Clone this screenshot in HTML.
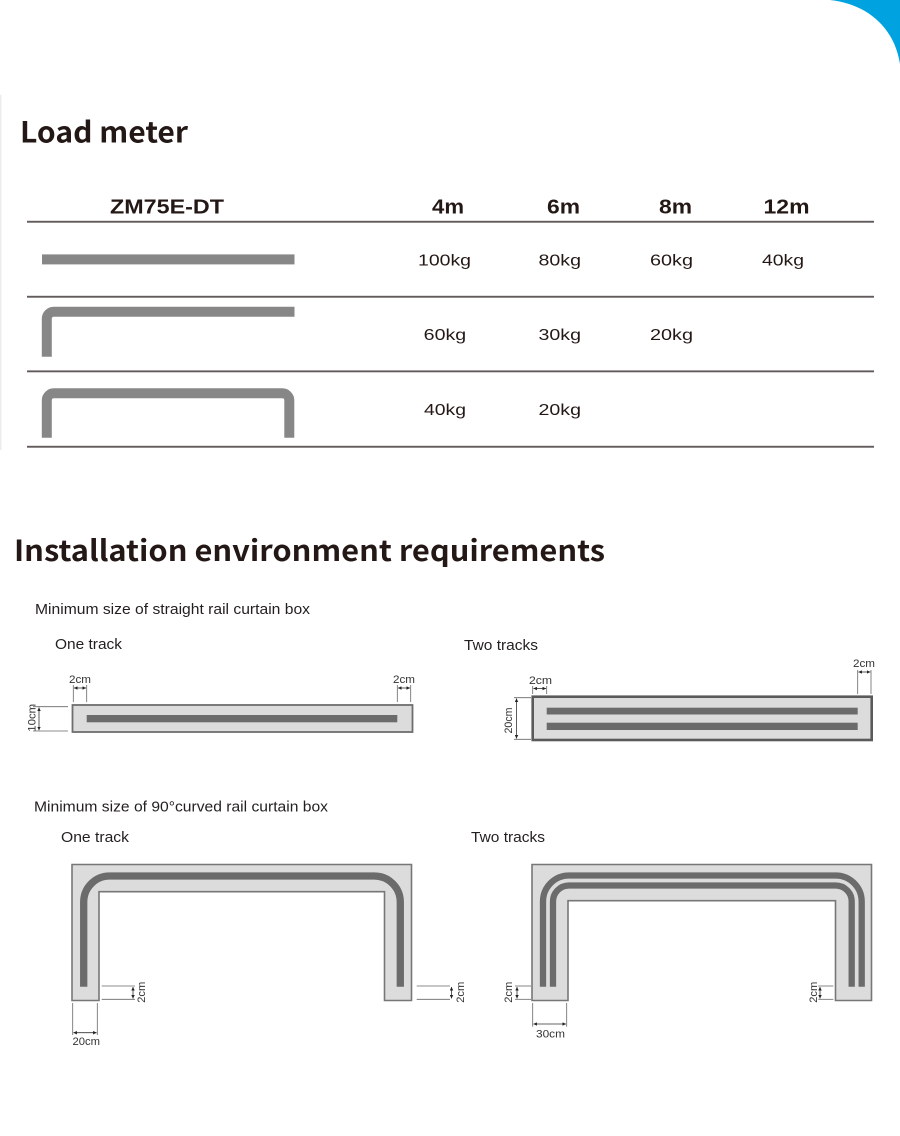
<!DOCTYPE html>
<html>
<head>
<meta charset="utf-8">
<style>
html,body{margin:0;padding:0;background:#fff;}
svg{display:block;}
.h{font-family:"Noto Sans CJK SC","Liberation Sans",sans-serif;font-weight:700;fill:#231815;}
.th{font-family:"Liberation Sans",Arial,sans-serif;font-weight:700;fill:#231815;font-size:20px;}
.tv{font-family:"Liberation Sans",Arial,sans-serif;fill:#231815;font-size:16px;}
.st{font-family:"Liberation Sans",Arial,sans-serif;fill:#231f20;font-size:15px;}
.d{font-family:"Liberation Sans",Arial,sans-serif;fill:#333;font-size:11px;}
.dl{stroke:#666;stroke-width:0.8;fill:none;}
.ar{stroke:#333;stroke-width:0.8;fill:none;}
</style>
</head>
<body>
<svg width="900" height="1136" viewBox="0 0 900 1136" xmlns="http://www.w3.org/2000/svg">
<defs>
<marker id="a" viewBox="0 0 6 6" refX="6" refY="3" markerWidth="3.5" markerHeight="3.5" orient="auto-start-reverse" markerUnits="userSpaceOnUse">
<path d="M0,0 L6,3 L0,6 Z" fill="#222"/>
</marker>
</defs>
<rect width="900" height="1136" fill="#fff"/>
<path d="M830,0 C866,4 894,26 900,64 L900,0 Z" fill="#00a3e0"/>
<rect x="0" y="95" width="1.5" height="355" fill="#ececec"/>

<!-- Load meter -->
<text class="h" x="20" y="142.7" font-size="29" textLength="168" lengthAdjust="spacingAndGlyphs">Load meter</text>

<text class="th" x="110" y="213.3" textLength="114" lengthAdjust="spacingAndGlyphs">ZM75E-DT</text>
<text class="th" x="432" y="213.3" textLength="32" lengthAdjust="spacingAndGlyphs">4m</text>
<text class="th" x="547" y="213.3" textLength="33" lengthAdjust="spacingAndGlyphs">6m</text>
<text class="th" x="659" y="213.3" textLength="33" lengthAdjust="spacingAndGlyphs">8m</text>
<text class="th" x="763.5" y="213.3" textLength="46" lengthAdjust="spacingAndGlyphs">12m</text>

<rect x="27" y="220.8" width="847" height="1.9" fill="#625b5b"/>
<rect x="27" y="295.8" width="847" height="1.9" fill="#625b5b"/>
<rect x="27" y="370.4" width="847" height="1.9" fill="#625b5b"/>
<rect x="27" y="445.8" width="847" height="1.9" fill="#625b5b"/>

<!-- row 1 -->
<rect x="42" y="254.4" width="252.5" height="10" fill="#878787"/>
<text class="tv" x="418" y="265.7" textLength="53" lengthAdjust="spacingAndGlyphs">100kg</text>
<text class="tv" x="538.5" y="265.7" textLength="42.5" lengthAdjust="spacingAndGlyphs">80kg</text>
<text class="tv" x="650" y="265.7" textLength="43" lengthAdjust="spacingAndGlyphs">60kg</text>
<text class="tv" x="762" y="265.7" textLength="42" lengthAdjust="spacingAndGlyphs">40kg</text>

<!-- row 2 -->
<path d="M46.8,356.7 V318.7 A7,7 0 0 1 53.8,311.7 H294.5" stroke="#878787" stroke-width="10" fill="none"/>
<text class="tv" x="423.7" y="340" textLength="42.5" lengthAdjust="spacingAndGlyphs">60kg</text>
<text class="tv" x="538.5" y="340" textLength="42.5" lengthAdjust="spacingAndGlyphs">30kg</text>
<text class="tv" x="650" y="340" textLength="43" lengthAdjust="spacingAndGlyphs">20kg</text>

<!-- row 3 -->
<path d="M46.8,437.7 V400.3 A7,7 0 0 1 53.8,393.3 H282.3 A7,7 0 0 1 289.3,400.3 V437.7" stroke="#878787" stroke-width="10" fill="none"/>
<text class="tv" x="424" y="415" textLength="42" lengthAdjust="spacingAndGlyphs">40kg</text>
<text class="tv" x="538.5" y="415" textLength="42.5" lengthAdjust="spacingAndGlyphs">20kg</text>

<!-- Installation -->
<text class="h" x="14" y="561" font-size="29" textLength="591" lengthAdjust="spacingAndGlyphs">Installation environment requirements</text>

<text class="st" x="35" y="614" textLength="275" lengthAdjust="spacingAndGlyphs">Minimum size of straight rail curtain box</text>
<text class="st" x="55" y="649" textLength="67" lengthAdjust="spacingAndGlyphs">One track</text>
<text class="st" x="464" y="650" textLength="74" lengthAdjust="spacingAndGlyphs">Two tracks</text>

<!-- straight one track -->
<rect x="72.5" y="705" width="340" height="27" fill="#dcdcdc" stroke="#6e6e6e" stroke-width="1.8"/>
<rect x="86.7" y="715" width="310.6" height="7.3" fill="#6b6b6b"/>
<line class="dl" x1="73.3" y1="685" x2="73.3" y2="702"/>
<line class="dl" x1="86.7" y1="685" x2="86.7" y2="702"/>
<line class="ar" x1="74" y1="688" x2="86" y2="688" marker-start="url(#a)" marker-end="url(#a)"/>
<text class="d" x="69" y="683" textLength="22" lengthAdjust="spacingAndGlyphs">2cm</text>
<line class="dl" x1="397.3" y1="685" x2="397.3" y2="702"/>
<line class="dl" x1="410.7" y1="685" x2="410.7" y2="702"/>
<line class="ar" x1="398" y1="688" x2="410" y2="688" marker-start="url(#a)" marker-end="url(#a)"/>
<text class="d" x="393" y="683" textLength="22" lengthAdjust="spacingAndGlyphs">2cm</text>
<line class="dl" x1="33" y1="706.7" x2="68" y2="706.7"/>
<line class="dl" x1="33" y1="731" x2="68" y2="731"/>
<line class="ar" x1="39" y1="707.5" x2="39" y2="730.3" marker-start="url(#a)" marker-end="url(#a)"/>
<text class="d" transform="translate(35.5,717.8) rotate(-90)" text-anchor="middle" textLength="28" lengthAdjust="spacingAndGlyphs">10cm</text>

<!-- straight two tracks -->
<rect x="532.7" y="696.7" width="339" height="43.3" fill="#dcdcdc" stroke="#5a5a5a" stroke-width="2.6"/>
<rect x="546.7" y="707.7" width="311" height="6.8" fill="#6b6b6b"/>
<rect x="546.7" y="722.7" width="311" height="7.3" fill="#6b6b6b"/>
<line class="dl" x1="532.7" y1="686" x2="532.7" y2="694"/>
<line class="dl" x1="546.7" y1="686" x2="546.7" y2="694"/>
<line class="ar" x1="533.4" y1="688.5" x2="546" y2="688.5" marker-start="url(#a)" marker-end="url(#a)"/>
<text class="d" x="529" y="684" textLength="23" lengthAdjust="spacingAndGlyphs">2cm</text>
<line class="dl" x1="857.7" y1="670" x2="857.7" y2="694"/>
<line class="dl" x1="871" y1="670" x2="871" y2="694"/>
<line class="ar" x1="858.4" y1="672" x2="870.3" y2="672" marker-start="url(#a)" marker-end="url(#a)"/>
<text class="d" x="853" y="667" textLength="22" lengthAdjust="spacingAndGlyphs">2cm</text>
<line class="dl" x1="514" y1="697.7" x2="531" y2="697.7"/>
<line class="dl" x1="514" y1="739.3" x2="531" y2="739.3"/>
<line class="ar" x1="516.5" y1="698.5" x2="516.5" y2="738.5" marker-start="url(#a)" marker-end="url(#a)"/>
<text class="d" transform="translate(512,720.5) rotate(-90)" text-anchor="middle" textLength="26" lengthAdjust="spacingAndGlyphs">20cm</text>

<!-- curved -->
<text class="st" x="34" y="811.7" textLength="294" lengthAdjust="spacingAndGlyphs">Minimum size of 90°curved rail curtain box</text>
<text class="st" x="61" y="842" textLength="68" lengthAdjust="spacingAndGlyphs">One track</text>
<text class="st" x="471" y="842" textLength="74" lengthAdjust="spacingAndGlyphs">Two tracks</text>

<!-- curved one track -->
<path d="M72,864.5 H411.5 V1000.5 H384.5 V891.7 H99 V1000.5 H72 Z" fill="#dcdcdc" stroke="#777" stroke-width="1.6"/>
<path d="M83.7,986.7 V902 A26,26 0 0 1 109.7,876 H374.3 A26,26 0 0 1 400.3,902 V986.7" stroke="#6b6b6b" stroke-width="7.3" fill="none"/>
<line class="dl" x1="101.7" y1="986" x2="135" y2="986"/>
<line class="dl" x1="101.7" y1="999.3" x2="135" y2="999.3"/>
<line class="ar" x1="133" y1="987" x2="133" y2="998.5" marker-start="url(#a)" marker-end="url(#a)"/>
<text class="d" transform="translate(145,992.3) rotate(-90)" text-anchor="middle" textLength="21" lengthAdjust="spacingAndGlyphs">2cm</text>
<line class="dl" x1="416.7" y1="986" x2="450" y2="986"/>
<line class="dl" x1="416.7" y1="999.3" x2="450" y2="999.3"/>
<line class="ar" x1="451.5" y1="987" x2="451.5" y2="998.5" marker-start="url(#a)" marker-end="url(#a)"/>
<text class="d" transform="translate(464,992.3) rotate(-90)" text-anchor="middle" textLength="21" lengthAdjust="spacingAndGlyphs">2cm</text>
<line class="dl" x1="72.7" y1="1003" x2="72.7" y2="1035"/>
<line class="dl" x1="97.3" y1="1003" x2="97.3" y2="1035"/>
<line class="ar" x1="73.4" y1="1032.7" x2="96.6" y2="1032.7" marker-start="url(#a)" marker-end="url(#a)"/>
<text class="d" x="72.5" y="1045" textLength="27.5" lengthAdjust="spacingAndGlyphs">20cm</text>

<!-- curved two tracks -->
<path d="M532,864.5 H871.5 V1000.5 H835.5 V900.7 H568 V1000.5 H532 Z" fill="#dcdcdc" stroke="#777" stroke-width="1.6"/>
<path d="M543,986.7 V901.5 A26,26 0 0 1 569,875.5 H835.7 A26,26 0 0 1 861.7,901.5 V986.7" stroke="#6b6b6b" stroke-width="6.3" fill="none"/>
<path d="M553,986.7 V901.5 A16,16 0 0 1 569,885.5 H835.7 A16,16 0 0 1 851.7,901.5 V986.7" stroke="#6b6b6b" stroke-width="6.3" fill="none"/>
<line class="dl" x1="515" y1="986" x2="531" y2="986"/>
<line class="dl" x1="515" y1="999.3" x2="531" y2="999.3"/>
<line class="ar" x1="517" y1="987" x2="517" y2="998.5" marker-start="url(#a)" marker-end="url(#a)"/>
<text class="d" transform="translate(512,992.3) rotate(-90)" text-anchor="middle" textLength="21" lengthAdjust="spacingAndGlyphs">2cm</text>
<line class="dl" x1="818.3" y1="986" x2="833.3" y2="986"/>
<line class="dl" x1="818.3" y1="999.3" x2="833.3" y2="999.3"/>
<line class="ar" x1="820" y1="987" x2="820" y2="998.5" marker-start="url(#a)" marker-end="url(#a)"/>
<text class="d" transform="translate(817,992.3) rotate(-90)" text-anchor="middle" textLength="21" lengthAdjust="spacingAndGlyphs">2cm</text>
<line class="dl" x1="532.7" y1="1003" x2="532.7" y2="1026.7"/>
<line class="dl" x1="566.7" y1="1003" x2="566.7" y2="1026.7"/>
<line class="ar" x1="533.4" y1="1024" x2="566" y2="1024" marker-start="url(#a)" marker-end="url(#a)"/>
<text class="d" x="536" y="1037.3" textLength="29" lengthAdjust="spacingAndGlyphs">30cm</text>
</svg>
</body>
</html>
